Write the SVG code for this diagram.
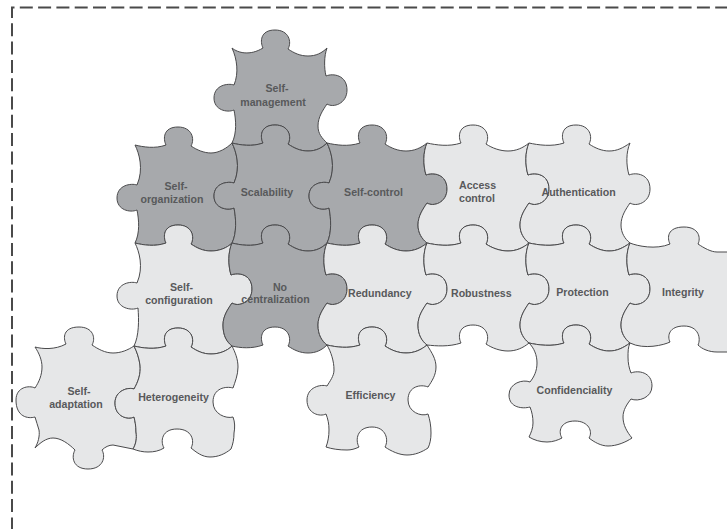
<svg xmlns="http://www.w3.org/2000/svg" width="727" height="529" viewBox="0 0 727 529">
<style>
.d{fill:#a7a9ac}.l{fill:#e6e7e8}
path.d,path.l{stroke:#4a4a4c;stroke-width:1;stroke-linejoin:miter}
text{font-family:"Liberation Sans",Arial,sans-serif;font-size:10.6px;font-weight:bold;fill:#58595b;text-anchor:middle}
.s{text-anchor:start}
#frame{fill:none;stroke:#4a4a4a;stroke-width:2;stroke-dasharray:13 5.3;stroke-dashoffset:1.4}
</style>
<path id="frame" d="M12 529V7.5H727"/>
<g id="self-management"><path class="d" d="M232 48c6 5 18 8 31 0c-3-6-3-18 12-18c14 0 17 12 13 19c6 4 12 7 20 7c8 0 14-3 19-8c-3 8-3 20-1 28c7-3 21-1 21 14c0 14-14 18-20 14c-4 6-9 13-9 22c0 8 4 12 9 17c-5 5-11 8-19 8c-8 0-14-3-20-7c4-7 1-19-13-19c-15 0-15 12-12 18c-11 4-23 2-31 0c5-10 4-23 2-33c-7 3-20 0-20-12c0-13 14-15 20-13c5-12 3-26-2-37z"/><text x="277" y="92">Self-</text><text x="273" y="106">management</text></g>
<g id="self-organization"><path class="d" d="M135 145c8 2 20 4 31 0c-3-6-3-18 12-18c14 0 17 12 13 19c6 4 13 7 20 7c8 0 16-5 21-10c4 8 9 24 2 40c-6-2-20 0-20 13c0 12 13 15 20 12c2 10 3 25-2 35c-5 5-13 8-21 8c-8 0-14-3-20-7c4-7 1-19-13-19c-15 0-15 12-12 18c-11 4-23 2-31 0c5-10 4-23 2-33c-7 3-20 0-20-12c0-13 14-15 20-13c7-16 2-32-2-40z"/><text x="176" y="190">Self-</text><text x="172" y="203">organization</text></g>
<g id="scalability"><path class="d" d="M232 143c8 2 20 4 31 0c-3-6-3-18 12-18c14 0 17 12 13 19c6 4 12 7 20 7c8 0 14-3 19-8c4 8 9 24 2 40c-6-2-20 0-20 13c0 12 13 15 20 12c2 10 3 25-2 35c-5 5-11 8-19 8c-8 0-14-3-20-7c4-7 1-19-13-19c-15 0-15 12-12 18c-11 4-23 2-31 0c5-10 4-25 2-35c-7 3-20 0-20-12c0-13 14-15 20-13c7-16 2-32-2-40z"/><text x="267" y="196">Scalability</text></g>
<g id="self-control"><path class="d" d="M327 143c9 2 21 4 33 0c-3-6-3-18 12-18c14 0 17 12 13 19c6 4 13 7 21 7c8 0 15-3 21-8c-4 9-4 22-1 32c7-3 21-1 21 14c0 14-14 18-20 14c-4 6-9 13-9 22c0 8 4 14 9 18c-6 5-13 8-21 8c-8 0-15-3-21-7c4-7 1-19-13-19c-15 0-15 12-12 18c-12 4-24 2-33 0c5-10 4-25 2-35c-7 3-20 0-20-12c0-13 14-15 20-13c7-16 2-32-2-40z"/><text x="373.500" y="196">Self-control</text></g>
<g id="access-control"><path class="l" d="M427 143c9 2 22 4 34 0c-3-6-3-18 12-18c14 0 17 12 13 19c6 4 14 7 22 7c8 0 15-3 21-8c-4 9-4 22-1 32c7-3 21-1 21 14c0 14-14 18-20 14c-4 6-9 13-9 22c0 8 4 14 9 18c-6 5-13 8-21 8c-8 0-16-3-22-7c4-7 1-19-13-19c-15 0-15 12-12 18c-12 4-25 2-34 0c-5-4-9-10-9-18c0-9 5-16 9-22c6 4 20 0 20-14c0-15-14-17-21-14c-3-10-3-23 1-32z"/><text class="s" x="459" y="189">Access</text><text class="s" x="459" y="202">control</text></g>
<g id="authentication"><path class="l" d="M529 143c9 2 23 4 35 0c-3-6-3-18 12-18c14 0 17 12 13 19c6 4 13 7 20 7c8 0 14-3 21-8c-4 9-4 22-1 32c7-3 21-1 21 14c0 14-14 18-20 14c-4 6-9 13-9 22c0 8 4 14 9 18c-7 5-13 8-21 8c-7 0-14-3-20-7c4-7 1-19-13-19c-15 0-15 12-12 18c-12 4-26 2-35 0c-5-4-9-10-9-18c0-9 5-16 9-22c6 4 20 0 20-14c0-15-14-17-21-14c-3-10-3-23 1-32z"/><text class="s" x="541.500" y="196">Authentication</text></g>
<g id="self-configuration"><path class="l" d="M135 243c8 2 20 4 31 0c-3-6-3-18 12-18c14 0 17 12 13 19c6 4 12 7 20 7c8 0 16-3 21-8c-4 9-4 22-1 32c7-3 21-1 21 14c0 14-14 18-20 14c-4 6-9 13-9 22c0 11 4 17 9 21c-5 5-13 8-21 8c-8 0-14-3-20-7c4-7 1-19-13-19c-15 0-15 12-12 18c-11 4-24 2-32 0c5-10 5-26 4-38c-7 3-21 0-21-12c0-13 14-15 20-13c7-16 2-32-2-40z"/><text x="181.500" y="291">Self-</text><text x="179" y="304">configuration</text></g>
<g id="no-centralization"><path class="d" d="M232 243c8 2 20 4 31 0c-3-6-3-18 12-18c14 0 17 12 13 19c6 4 12 7 20 7c8 0 14-3 19-8c-4 9-4 22-1 32c7-3 21-1 21 14c0 14-14 18-20 14c-4 6-9 13-9 22c0 10 4 16 9 20c-5 5-11 8-19 8c-8 0-14-3-20-7c4-7 1-19-13-19c-15 0-15 12-12 18c-11 4-23 3-31 1c-5-4-9-10-9-21c0-9 5-16 9-22c6 4 20 0 20-14c0-15-14-17-21-14c-3-10-3-23 1-32z"/><text x="280" y="291">No</text><text x="275.500" y="303">centralization</text></g>
<g id="redundancy"><path class="l" d="M327 243c9 2 21 4 33 0c-3-6-3-18 12-18c14 0 17 12 13 19c6 4 13 7 21 7c8 0 15-3 21-8c-4 9-4 22-1 32c7-3 21-1 21 14c0 14-14 18-20 14c-4 6-9 13-9 22c0 10 4 16 9 20c-6 5-13 8-21 8c-8 0-15-3-21-7c4-7 1-19-13-19c-15 0-15 12-12 18c-12 4-24 2-33 0c-5-4-9-10-9-20c0-9 5-16 9-22c6 4 20 0 20-14c0-15-14-17-21-14c-3-10-3-23 1-32z"/><text class="s" x="348" y="297">Redundancy</text></g>
<g id="robustness"><path class="l" d="M427 243c9 2 22 4 34 0c-3-6-3-18 12-18c14 0 17 12 13 19c6 4 14 7 22 7c8 0 15-3 21-8c-4 9-4 22-1 32c7-3 21-1 21 14c0 14-14 18-20 14c-4 6-9 13-9 22c0 8 4 14 9 18c-6 5-13 8-21 8c-8 0-16-3-22-7c4-7 1-19-13-19c-15 0-15 12-12 18c-12 4-25 3-34 2c-5-4-9-10-9-20c0-9 5-16 9-22c6 4 20 0 20-14c0-15-14-17-21-14c-3-10-3-23 1-32z"/><text class="s" x="451" y="297">Robustness</text></g>
<g id="protection"><path class="l" d="M529 243c9 2 23 4 35 0c-3-6-3-18 12-18c14 0 17 12 13 19c6 4 13 7 20 7c8 0 14-3 21-8c-4 9-4 22-1 32c7-3 21-1 21 14c0 14-14 18-20 14c-4 6-9 13-9 22c0 8 4 14 9 18c-7 5-13 8-21 8c-7 0-14-3-20-7c4-7 1-19-13-19c-15 0-15 12-12 18c-12 4-26 2-35 0c-5-4-9-10-9-18c0-9 5-16 9-22c6 4 20 0 20-14c0-15-14-17-21-14c-3-10-3-23 1-32z"/><text x="582.500" y="296">Protection</text></g>
<g id="integrity"><path class="l" d="M630 243c7 3 26 7 40 1c-3-6-3-17 14-17c15 0 17 11 14 17c6 4 13 8 19 8h13v100h-13c-8 0-15-3-19-7c3-6 1-19-14-19c-15 0-17 10-14 16c-6 3-26 8-40 1c-5-4-9-10-9-18c0-9 5-16 9-22c6 4 20 0 20-14c0-15-14-17-21-14c-3-10-3-23 1-32z"/><text x="683" y="296">Integrity</text></g>
<g id="self-adaptation"><path class="l" d="M35 347c7 2 20 3 31-3c-3-6-3-17 13-17c14 0 17 11 13 18c6 4 13 8 21 8c8 0 15-3 21-7c3 6 5 12 6 19c1 9-2 17-6 24c-5-2-19 1-19 14c0 14 13 17 19 14c1 4 2 9 2 15c1 6 0 12-3 17c-7-1-13-3-20-4c-4 0-8 2-11 5c4 7 1 19-14 19c-15 0-17-12-13-19c-6-6-14-12-22-12c-7 0-13 5-18 10c3-5 5-12 4-18c-1-4-3-9-4-13c-7 2-19 0-19-17c0-13 13-15 19-12c4-6 7-13 7-21c0-7-3-14-7-20z"/><text x="79" y="395">Self-</text><text x="76" y="408">adaptation</text></g>
<g id="heterogeneity"><path class="l" d="M134 346c8 2 21 4 32 0c-3-6-3-18 12-18c14 0 17 12 13 19c6 4 12 7 20 7c8 0 16-3 21-8c3 6 6 13 6 21c0 8-3 15-5 21c-7-2-20 0-20 14c0 12 13 17 20 15c2 5 2 11 1 16c0 6-1 11-3 16c-6 5-13 8-21 8c-8 0-14-5-19-9c4-7 1-19-14-19c-15 0-17 12-13 19c-5 3-10 4-16 4c-5 0-10-1-15-3c3-5 4-11 3-17c0-6-1-11-2-15c-6 3-19 0-19-14c0-13 14-16 19-14c4-7 7-15 6-24c-1-7-3-13-6-19z"/><text x="173.500" y="401">Heterogeneity</text></g>
<g id="efficiency"><path class="l" d="M327 345c9 2 21 4 33 0c-3-6-3-18 12-18c14 0 17 12 13 19c6 4 13 7 21 7c8 0 15-3 21-8c5 8 9 14 9 22c0 8-4 14-8 20c-7-3-20-1-20 13c0 12 13 17 20 14c2 6 3 12 3 19c0 6-1 11-3 15c-6 4-13 7-21 7c-8 0-16-4-22-8c4-7 1-20-13-20c-15 0-17 13-13 20c-4 2-8 3-12 3c-8 0-15-1-21-3c2-5 3-11 3-17c0-6-1-11-3-16c-6 3-19 0-19-14c0-13 14-16 20-14c3-5 7-10 7-16c0-9-3-18-7-25z"/><text x="370.500" y="399">Efficiency</text></g>
<g id="confidenciality"><path class="l" d="M529 343c9 2 23 4 35 0c-3-6-3-18 12-18c14 0 17 12 13 19c6 4 13 7 20 7c8 0 14-3 21-8c-2 4-2 9-2 14c0 6 1 11 3 16c7-3 21-1 21 13c0 12-14 16-21 13c-4 5-8 11-8 18c0 8 4 15 9 21c-6 4-15 8-24 8c-7 0-14-4-19-8c4-6 0-17-14-17c-15 0-17 11-13 17c-4 2-9 4-15 4c-7 0-13-2-18-5c2-4 4-9 4-14c0-6-1-11-3-16c-7 2-21 1-21-12c0-12 14-16 21-13c4-5 7-11 7-19c0-8-3-15-8-20z"/><text x="574.500" y="394">Confidenciality</text></g>
</svg>
